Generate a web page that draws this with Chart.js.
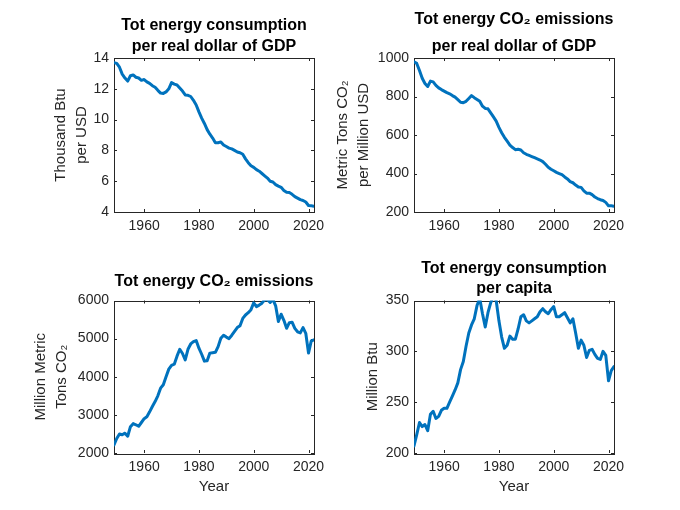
<!DOCTYPE html>
<html>
<head>
<meta charset="utf-8">
<script src="https://cdn.jsdelivr.net/npm/chart.js@4.4.1/dist/chart.umd.min.js"></script>
<style>
  html, body { margin: 0; padding: 0; background: #fff; }
  #fig { position: relative; width: 680px; height: 510px; overflow: hidden; background: #fff; }
  #fig canvas { position: absolute; }
</style>
</head>
<body>
<div id="fig">
  <canvas id="c1" width="340" height="255" style="left:0;top:0"></canvas>
  <canvas id="c2" width="360" height="255" style="left:320px;top:0"></canvas>
  <canvas id="c3" width="340" height="255" style="left:0;top:255px"></canvas>
  <canvas id="c4" width="360" height="255" style="left:320px;top:255px"></canvas>
</div>
<script>
// Data
const years = [
  1949, 1950, 1951, 1952, 1953, 1954, 1955, 1956, 1957, 1958,
  1959, 1960, 1961, 1962, 1963, 1964, 1965, 1966, 1967, 1968,
  1969, 1970, 1971, 1972, 1973, 1974, 1975, 1976, 1977, 1978,
  1979, 1980, 1981, 1982, 1983, 1984, 1985, 1986, 1987, 1988,
  1989, 1990, 1991, 1992, 1993, 1994, 1995, 1996, 1997, 1998,
  1999, 2000, 2001, 2002, 2003, 2004, 2005, 2006, 2007, 2008,
  2009, 2010, 2011, 2012, 2013, 2014, 2015, 2016, 2017, 2018,
  2019, 2020, 2021, 2022
];

// Thousand Btu per USD
const energyPerGdp = [
  13.70, 13.65, 13.40, 12.95, 12.70, 12.50, 12.85, 12.90, 12.75, 12.70,
  12.55, 12.60, 12.45, 12.35, 12.20, 12.10, 11.90, 11.72, 11.70, 11.80,
  12.00, 12.40, 12.30, 12.25, 12.05, 11.85, 11.60, 11.58, 11.50, 11.25,
  10.95, 10.50, 10.10, 9.75, 9.35, 9.05, 8.80, 8.50, 8.50, 8.55,
  8.35, 8.25, 8.15, 8.10, 8.00, 7.90, 7.85, 7.75, 7.45, 7.20,
  7.00, 6.90, 6.75, 6.65, 6.50, 6.35, 6.20, 6.00, 5.95, 5.78,
  5.68, 5.60, 5.40, 5.28, 5.26, 5.15, 5.00, 4.90, 4.80, 4.75,
  4.65, 4.42, 4.40, 4.38
];

// Metric tons CO2 per million USD
const co2PerGdp = [
  980, 972, 935, 895, 868, 852, 880, 876, 858, 845,
  836, 828, 820, 814, 805, 797, 784, 770, 768, 775,
  790, 805, 794, 785, 775, 750, 738, 736, 715, 694,
  672, 640, 612, 588, 568, 548, 535, 524, 526, 522,
  508, 500, 494, 488, 482, 476, 470, 462, 448, 432,
  422, 414, 406, 400, 394, 382, 372, 358, 352, 340,
  330, 328, 310, 298, 298, 290, 278, 270, 264, 260,
  250, 232, 232, 230
];

// Million metric tons CO2
const co2Total = [
  2210, 2380, 2500, 2480, 2520, 2440, 2690, 2770, 2740, 2700,
  2800, 2900, 2950, 3080, 3220, 3350, 3500, 3700, 3790, 4000,
  4200, 4300, 4330, 4540, 4720, 4610, 4440, 4720, 4860, 4920,
  4950, 4750, 4590, 4410, 4420, 4620, 4630, 4640, 4790, 5010,
  5090, 5040, 5000, 5090, 5190, 5290, 5340, 5530, 5620, 5680,
  5760, 5940, 5840, 5880, 5930, 6020, 6020, 5950, 6030, 5860,
  5450, 5640, 5480, 5270, 5420, 5430, 5270, 5180, 5150, 5290,
  5140, 4620, 4940, 4970
];

// Million Btu per capita
const energyPerCapita = [
  207, 218, 230, 226, 228, 222, 238, 241, 234, 236,
  242, 244, 244, 250, 256, 262, 269, 282, 290, 305,
  318, 326, 332, 345, 352, 337, 324, 338, 348, 354,
  350, 330, 314, 303, 306, 315, 312, 312, 322, 334,
  336, 330, 328, 330, 332, 334, 339, 342, 339, 337,
  341, 344, 334, 334, 336, 338, 333, 328, 332, 318,
  303, 311, 306, 294, 301, 302, 297, 293, 292, 300,
  296, 271, 281, 285
];

const xTicks = [1960, 1980, 2000, 2020];
const yTicks1 = [4, 6, 8, 10, 12, 14];
const yTicks2 = [200, 400, 600, 800, 1000];
const yTicks3 = [2000, 3000, 4000, 5000, 6000];
const yTicks4 = [200, 250, 300, 350];

const FONT = '"Liberation Sans", Arial, Helvetica, sans-serif';
const AXIS = '#262626';
const BLUE = '#0072BD';

// axes box + inward tick marks, MATLAB style
const boxPlugin = {
  id: 'matlabBox',
  beforeDatasetsDraw(chart) {
    const { ctx, chartArea: a, scales: { x, y } } = chart;
    const len = 3;
    ctx.save();
    ctx.strokeStyle = AXIS;
    ctx.lineWidth = 1;
    ctx.strokeRect(Math.round(a.left) + 0.5, Math.round(a.top) + 0.5,
      Math.round(a.right - a.left), Math.round(a.bottom - a.top));
    ctx.beginPath();
    x.ticks.forEach(t => {
      const px = Math.round(x.getPixelForValue(t.value)) + 0.5;
      ctx.moveTo(px, a.bottom); ctx.lineTo(px, a.bottom - len);
      ctx.moveTo(px, a.top); ctx.lineTo(px, a.top + len);
    });
    y.ticks.forEach(t => {
      const py = Math.round(y.getPixelForValue(t.value)) + 0.5;
      ctx.moveTo(a.left, py); ctx.lineTo(a.left + len, py);
      ctx.moveTo(a.right, py); ctx.lineTo(a.right - len, py);
    });
    ctx.stroke();
    ctx.restore();
  }
};

function makeChart(id, o) {
  return new Chart(document.getElementById(id), {
    type: 'line',
    data: {
      datasets: [{
        data: years.map((yr, i) => ({ x: yr, y: o.values[i] })),
        borderColor: BLUE,
        borderWidth: 3,
        borderJoinStyle: 'round',
        borderCapStyle: 'round',
        pointRadius: 0,
        tension: 0,
        fill: false
      }]
    },
    options: {
      responsive: false,
      animation: false,
      events: [],
      layout: { padding: { left: 0, top: 0, right: o.padRight, bottom: 0 } },
      plugins: {
        legend: { display: false },
        tooltip: { enabled: false },
        title: {
          display: true,
          fullSize: false,
          text: o.title,
          color: '#000',
          font: { family: FONT, size: 16, weight: 'bold', lineHeight: o.titleLH },
          padding: o.titlePad
        }
      },
      scales: {
        x: {
          type: 'linear',
          min: 1949,
          max: 2022,
          afterBuildTicks: s => { s.ticks = xTicks.map(v => ({ value: v })); },
          afterFit: s => { s.height = o.xHeight; },
          grid: { display: false, drawTicks: false },
          border: { display: false },
          ticks: {
            color: AXIS, font: { family: FONT, size: 14 }, padding: 6,
            maxRotation: 0, autoSkip: false, callback: v => String(v)
          },
          title: {
            display: !!o.xTitle, text: o.xTitle, color: AXIS,
            font: { family: FONT, size: 15, lineHeight: 1.3 },
            padding: { top: 0, bottom: 13 }
          }
        },
        y: {
          min: o.yMin,
          max: o.yMax,
          afterBuildTicks: s => { s.ticks = o.yTicks.map(v => ({ value: v })); },
          afterFit: s => { s.width = o.yWidth; },
          grid: { display: false, drawTicks: false },
          border: { display: false },
          ticks: {
            color: AXIS, font: { family: FONT, size: 14 }, padding: 5,
            autoSkip: false, callback: v => String(v)
          },
          title: {
            display: true, text: o.yTitle, color: AXIS,
            font: { family: FONT, size: 15, lineHeight: 1.4 },
            padding: { top: o.yTitlePad, bottom: 0 }
          }
        }
      }
    },
    plugins: [boxPlugin]
  });
}

makeChart('c1', {
  values: energyPerGdp, yMin: 4, yMax: 14, yTicks: yTicks1,
  title: ['Tot energy consumption', 'per real dollar of GDP'],
  titleLH: 1.3, titlePad: { top: 15.4, bottom: 1 },
  yTitle: ['Thousand Btu', 'per USD'], yTitlePad: 50.5,
  yWidth: 114, xHeight: 43, padRight: 26
});

makeChart('c2', {
  values: co2PerGdp, yMin: 200, yMax: 1000, yTicks: yTicks2,
  title: ['Tot energy CO\u2082 emissions', 'per real dollar of GDP'],
  titleLH: 1.67, titlePad: { top: 6.6, bottom: -2 },
  yTitle: ['Metric Tons CO\u2082', 'per Million USD'], yTitlePad: 12.5,
  yWidth: 94, xHeight: 43, padRight: 66
});

makeChart('c3', {
  values: co2Total, yMin: 2000, yMax: 6000, yTicks: yTicks3,
  title: 'Tot energy CO\u2082 emissions',
  titleLH: 1.3, titlePad: { top: 16.6, bottom: 8.1 },
  yTitle: ['Million Metric', 'Tons CO\u2082'], yTitlePad: 30.5,
  yWidth: 114, xHeight: 57, padRight: 26, xTitle: 'Year'
});

makeChart('c4', {
  values: energyPerCapita, yMin: 200, yMax: 350, yTicks: yTicks4,
  title: ['Tot energy consumption', 'per capita'],
  titleLH: 1.2, titlePad: { top: 4.4, bottom: 2.7 },
  yTitle: 'Million Btu', yTitlePad: 42.5,
  yWidth: 94, xHeight: 57, padRight: 66, xTitle: 'Year'
});
</script>
</body>
</html>
